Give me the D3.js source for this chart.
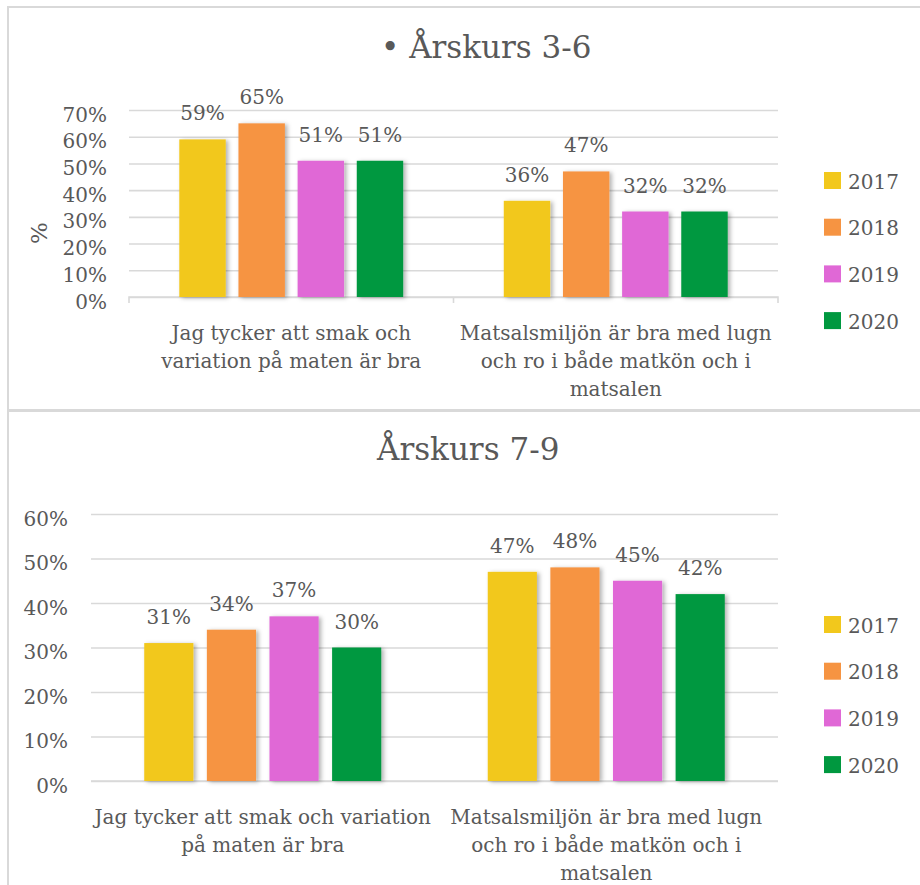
<!DOCTYPE html>
<html>
<head>
<meta charset="utf-8">
<script src="https://cdn.jsdelivr.net/npm/d3@7"></script>
<style>
  html, body { margin: 0; padding: 0; background: #fff; }
  svg { display: block; }
  text { font-family: "DejaVu Serif", serif; fill: #595959; }
</style>
</head>
<body>
<svg id="chart" width="920" height="885"></svg>
<script>
// ---- Data ----
const years = ["2017", "2018", "2019", "2020"];
const colors = ["#F2C81C", "#F69442", "#E068D6", "#00983F"];

const topTitle = "• Årskurs 3-6";
const topCategories = ["smak", "miljo"];
const topLabels = [
  ["Jag tycker att smak och", "variation på maten är bra"],
  ["Matsalsmiljön är bra med lugn", "och ro i både matkön och i", "matsalen"]
];
const topValues = { // per year, per category
  "2017": [59, 36],
  "2018": [65, 47],
  "2019": [51, 32],
  "2020": [51, 32]
};
const topTicks = [0, 10, 20, 30, 40, 50, 60, 70];

const botTitle = "Årskurs 7-9";
const botCategories = ["smak", "miljo"];
const botLabels = [
  ["Jag tycker att smak och variation", "på maten är bra"],
  ["Matsalsmiljön är bra med lugn", "och ro i både matkön och i", "matsalen"]
];
const botValues = {
  "2017": [31, 47],
  "2018": [34, 48],
  "2019": [37, 45],
  "2020": [30, 42]
};
const botTicks = [0, 10, 20, 30, 40, 50, 60];

// ---- Drawing ----
const svg = d3.select("#chart");

const defs = svg.append("defs");
const f = defs.append("filter").attr("id", "shadow")
  .attr("x", "-20%").attr("y", "-10%").attr("width", "150%").attr("height", "130%");
f.append("feDropShadow").attr("dx", 2.5).attr("dy", 1).attr("stdDeviation", 2)
  .attr("flood-color", "#000").attr("flood-opacity", 0.3);

// panel borders
svg.append("rect").attr("x", 8).attr("y", 7).attr("width", 940).attr("height", 403)
  .attr("fill", "none").attr("stroke", "#D9D9D9").attr("stroke-width", 2);
svg.append("rect").attr("x", 8).attr("y", 411).attr("width", 940).attr("height", 500)
  .attr("fill", "none").attr("stroke", "#D9D9D9").attr("stroke-width", 2);

function drawPanel(cfg) {
  const g = svg.append("g");
  const x0 = d3.scaleBand().domain(cfg.categories).range([cfg.left, cfg.right]).paddingInner(0).paddingOuter(0);
  const groupW = x0.bandwidth() * 0.69;
  const x1 = d3.scaleBand().domain(years).range([0, groupW]).paddingInner(0.215).paddingOuter(0);
  const y = d3.scaleLinear().domain([0, cfg.max]).range([cfg.bottom, cfg.top]);

  // grid + y labels
  const yAxis = d3.axisLeft(y).tickValues(cfg.ticks)
    .tickSize(-(cfg.right - cfg.left)).tickPadding(cfg.tickPad)
    .tickFormat(d => d + "%");
  const ya = g.append("g").attr("transform", `translate(${cfg.left},0)`).call(yAxis);
  ya.select(".domain").remove();
  ya.selectAll(".tick line").attr("stroke", "#D9D9D9").attr("stroke-width", 1.6);
  ya.selectAll(".tick text").attr("font-family", "DejaVu Serif").attr("font-size", 20)
    .attr("fill", "#595959").attr("dy", "0.55em");

  // baseline axis
  const xAxis = d3.axisBottom(x0).tickSize(cfg.xTicks ? 6 : 0).tickFormat("");
  const xa = g.append("g").attr("transform", `translate(0,${cfg.bottom})`).call(xAxis);
  xa.select(".domain").attr("stroke", "#D9D9D9").attr("stroke-width", 1.6)
    .attr("d", cfg.xTicks ? `M${cfg.left},6V0H${cfg.right}V6` : `M${cfg.left},0H${cfg.right}`);
  xa.selectAll(".tick line").attr("stroke", "#D9D9D9").attr("stroke-width", 1.6)
    .attr("transform", `translate(${-x0.bandwidth() / 2},0)`);
  if (!cfg.xTicks) xa.selectAll(".tick").remove();
  else xa.selectAll(".tick").filter((d, i) => i === 0).remove();

  // bars
  years.forEach((yr, yi) => {
    const vals = cfg.values[yr];
    g.append("g").selectAll("rect").data(cfg.categories.map((c, ci) => ({ c, v: vals[ci] })))
      .join("rect")
      .attr("x", d => x0(d.c) + (x0.bandwidth() - groupW) / 2 + x1(yr))
      .attr("y", d => y(d.v))
      .attr("width", x1.bandwidth())
      .attr("height", d => y(0) - y(d.v))
      .attr("fill", colors[yi])
      .attr("filter", "url(#shadow)");
    g.append("g").selectAll("text").data(cfg.categories.map((c, ci) => ({ c, v: vals[ci] })))
      .join("text")
      .attr("x", d => x0(d.c) + (x0.bandwidth() - groupW) / 2 + x1(yr) + x1.bandwidth() / 2)
      .attr("y", d => y(d.v) - 19)
      .attr("text-anchor", "middle")
      .attr("font-size", 20)
      .text(d => d.v + "%");
  });

  // category labels
  cfg.categories.forEach((c, ci) => {
    const t = g.append("text").attr("text-anchor", "middle").attr("font-size", 20)
      .attr("x", x0(c) + x0.bandwidth() / 2).attr("y", cfg.labelY);
    cfg.labels[ci].forEach((line, li) => {
      t.append("tspan").attr("x", x0(c) + x0.bandwidth() / 2).attr("dy", li === 0 ? 0 : 28).text(line);
    });
  });

  // title
  g.append("text").attr("x", cfg.titleX).attr("y", cfg.titleY).attr("font-size", 31)
    .attr("text-anchor", "start").text(cfg.title);

  // y axis title
  if (cfg.yTitle) {
    g.append("text").attr("transform", `translate(47,${cfg.yTitleY}) rotate(-90)`)
      .attr("text-anchor", "middle").attr("font-size", 23).text(cfg.yTitle);
  }

  // legend
  const lg = g.append("g");
  years.forEach((yr, i) => {
    const yy = cfg.legendY + i * 46.7;
    lg.append("rect").attr("x", 824).attr("y", yy).attr("width", 17).attr("height", 17).attr("fill", colors[i]);
    lg.append("text").attr("x", 848).attr("y", yy + 16.5).attr("font-size", 20).text(yr);
  });
}

drawPanel({
  categories: topCategories, labels: topLabels, values: topValues, ticks: topTicks,
  left: 129, right: 778, top: 110, bottom: 297, max: 70, tickPad: 22,
  xTicks: true, labelY: 340, title: topTitle, titleX: 381, titleY: 58,
  yTitle: "%", yTitleY: 233, legendY: 172
});

drawPanel({
  categories: botCategories, labels: botLabels, values: botValues, ticks: botTicks,
  left: 91, right: 778, top: 514, bottom: 781, max: 60, tickPad: 23,
  xTicks: false, labelY: 824, title: botTitle, titleX: 377, titleY: 460,
  yTitle: null, legendY: 616
});
</script>
</body>
</html>
